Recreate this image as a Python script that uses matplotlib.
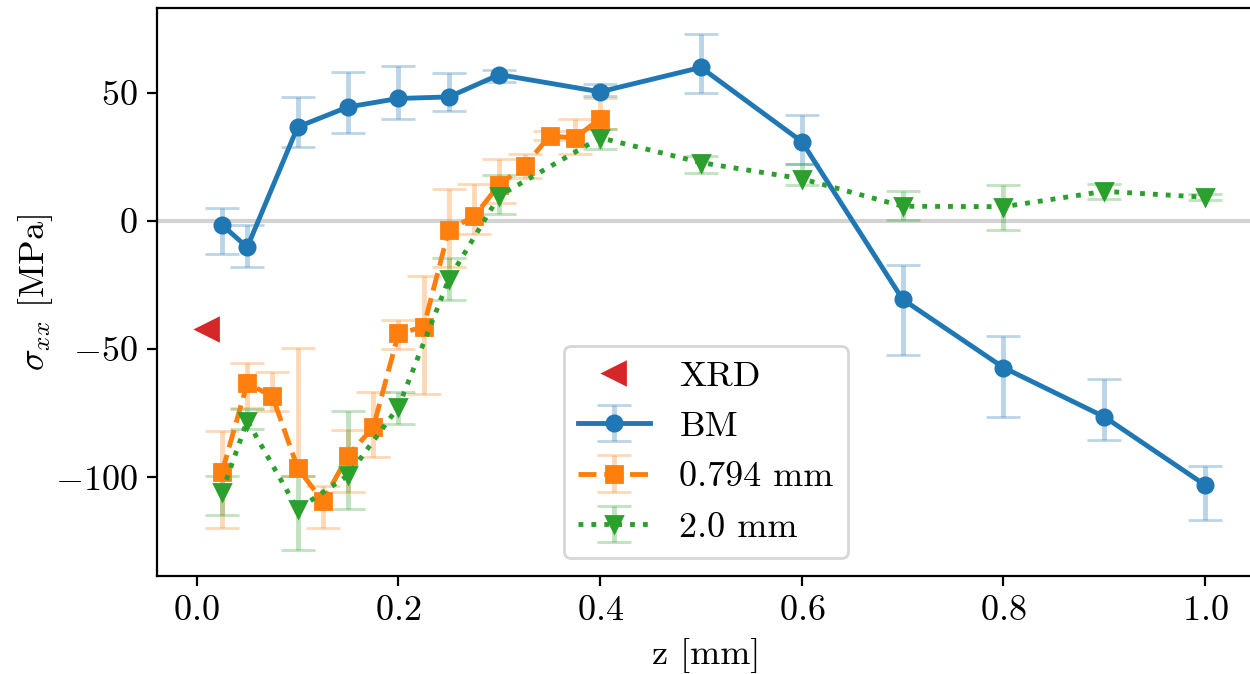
import numpy as np
import matplotlib
matplotlib.use("Agg")
import matplotlib.pyplot as plt

# fonte no estilo LaTeX (Computer Modern)
plt.rcParams['font.family'] = 'serif'
plt.rcParams['font.serif'] = ['cmr10']
plt.rcParams['mathtext.fontset'] = 'cm'
plt.rcParams['axes.formatter.use_mathtext'] = True
plt.rcParams['font.size'] = 13

# XRD
z_xrd = [0.01]
s_xrd = [-42.0]

# BM: valor, limite superior e inferior da barra de erro
z_bm = [0.025, 0.05, 0.1, 0.15, 0.2, 0.25, 0.3, 0.4, 0.5, 0.6, 0.7, 0.8, 0.9, 1.0]
s_bm = [-1.6, -10.3, 36.6, 44.4, 47.7, 48.3, 57.0, 50.3, 59.8, 30.9, -30.6, -57.2, -76.4, -103.0]
hi_bm = [5.1, -1.8, 48.2, 58.2, 60.5, 57.7, 58.7, 53.5, 72.9, 41.3, -17.1, -44.8, -61.6, -95.6]
lo_bm = [-12.9, -18.1, 28.8, 34.2, 39.8, 42.8, 54.2, 48.7, 49.7, 22.1, -52.2, -76.4, -85.3, -116.5]

# 0.794 mm
z_o = [0.025, 0.05, 0.075, 0.1, 0.125, 0.15, 0.175, 0.2, 0.225, 0.25, 0.275, 0.3, 0.325, 0.35, 0.375, 0.4]
s_o = [-98.0, -63.4, -68.4, -96.3, -109.4, -91.5, -80.5, -43.9, -41.4, -3.4, 1.7, 14.1, 21.4, 33.1, 32.3, 39.8]
hi_o = [-82.0, -55.6, -58.8, -49.7, -103.4, -81.4, -66.7, -38.8, -21.4, 12.6, 14.3, 24.2, 26.2, 35.0, 39.8, 48.0]
lo_o = [-119.7, -73.0, -74.2, -99.5, -119.7, -105.6, -91.9, -50.0, -67.6, -18.1, -5.3, 6.9, 16.7, 31.4, 26.2, 35.9]

# 2.0 mm
z_g = [0.025, 0.05, 0.1, 0.15, 0.2, 0.25, 0.3, 0.4, 0.5, 0.6, 0.7, 0.8, 0.9, 1.0]
s_g = [-105.7, -77.9, -112.5, -99.2, -72.5, -22.7, 9.8, 32.4, 22.7, 16.4, 5.7, 5.5, 11.5, 9.2]
hi_g = [-99.6, -73.4, -99.5, -74.2, -66.9, -14.5, 17.7, 35.9, 25.1, 22.1, 11.8, 13.9, 14.5, 10.5]
lo_g = [-114.5, -81.3, -128.4, -112.5, -79.3, -31.0, 2.7, 28.1, 18.6, 13.8, 0.4, -3.6, 8.6, 8.3]


def erros(s, lo, hi):
    s, lo, hi = np.array(s), np.array(lo), np.array(hi)
    return [s - lo, hi - s]


def serie(ax, z, s, lo, hi, fmt, cor, rotulo):
    eb = ax.errorbar(z, s, yerr=erros(s, lo, hi), fmt=fmt, color=cor,
                     ms=5.5, lw=1.75, capsize=6, label=rotulo)
    for c in eb[1]:
        c.set_alpha(0.3)
    for b in eb[2]:
        b.set_alpha(0.3)
    return eb


fig = plt.figure(figsize=(6.25, 3.37), dpi=200)
ax = fig.add_axes([0.1256, 0.1454, 0.8784, 0.8427])

ax.axhline(0, color='lightgray', lw=1.5, zorder=0)
ax.plot(z_xrd, s_xrd, '<', color='C3', ms=8, ls='none', label='XRD')
serie(ax, z_bm, s_bm, lo_bm, hi_bm, 'o-', 'C0', 'BM')
serie(ax, z_o, s_o, lo_o, hi_o, 's--', 'C1', '0.794 mm')
serie(ax, z_g, s_g, lo_g, hi_g, 'v:', 'C2', '2.0 mm')

ax.set_xlabel('z [mm]')
ax.set_ylabel(r'$\sigma_{xx}$ [MPa]', labelpad=0)
ax.legend(loc='lower center')

fig.savefig('out.png', dpi=200)
